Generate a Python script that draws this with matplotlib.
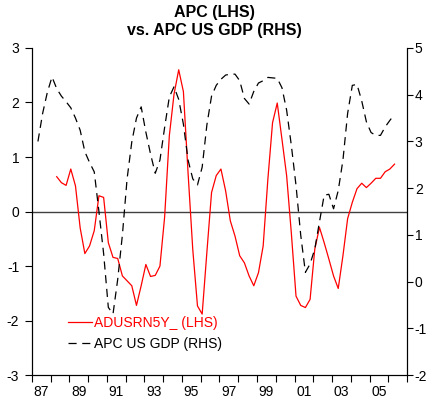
import numpy as np
import matplotlib
matplotlib.use("Agg")
import matplotlib.pyplot as plt

plt.rcParams['font.family'] = ['Liberation Sans', 'DejaVu Sans']
plt.rcParams['axes.unicode_minus'] = False

# ADUSRN5Y_ (LHS), quarterly from 1988 Q2
red_start = 1988.33
red_vals = [0.64, 0.53, 0.48, 0.78, 0.47, -0.30, -0.77, -0.63, -0.35, 0.29,
            0.26, -0.57, -0.84, -0.86, -1.18, -1.27, -1.36, -1.72, -1.36, -0.97,
            -1.19, -1.17, -1.00, -0.10, 1.39, 2.15, 2.60, 2.20, 0.70, -0.70,
            -1.73, -1.88, -0.75, 0.35, 0.66, 0.78, 0.38, -0.17, -0.45, -0.81,
            -0.94, -1.18, -1.36, -1.12, -0.63, 0.59, 1.63, 1.99, 1.33, 0.66,
            -0.39, -1.55, -1.72, -1.76, -1.61, -0.69, -0.29, -0.57, -0.87, -1.18,
            -1.41, -0.81, -0.13, 0.17, 0.42, 0.52, 0.44, 0.52, 0.61, 0.61,
            0.73, 0.78, 0.87]

# APC US GDP (RHS), quarterly from 1987 Q2
gdp_start = 1987.33
gdp_vals = [3.00, 3.60, 4.05, 4.38, 4.13, 3.97, 3.85, 3.72, 3.50, 3.24,
            2.78, 2.55, 2.35, 1.50, 0.60, -0.55, -0.69, 0.05, 1.00, 2.20,
            2.99, 3.50, 3.74, 3.20, 2.73, 2.32, 2.60, 3.30, 3.95, 4.17,
            3.90, 3.37, 2.60, 2.20, 2.07, 2.45, 3.35, 3.97, 4.20, 4.33,
            4.42, 4.44, 4.44, 4.30, 3.92, 3.80, 4.07, 4.25, 4.30, 4.37,
            4.36, 4.35, 4.15, 3.67, 2.92, 2.06, 1.00, 0.20, 0.38, 0.70,
            1.28, 1.85, 1.87, 1.56, 1.95, 2.60, 3.60, 4.20, 4.22, 3.87,
            3.42, 3.19, 3.13, 3.13, 3.31, 3.45, 3.58]

year_labels = ['87', '89', '91', '93', '95', '97', '99', '01', '03', '05']

red_t = red_start + 0.25 * np.arange(len(red_vals))
gdp_t = gdp_start + 0.25 * np.arange(len(gdp_vals))

fig = plt.figure(figsize=(4.29, 4.03), dpi=100)
ax = fig.add_axes([0.074, 0.069, 0.875, 0.812])
ax2 = ax.twinx()

ax.axhline(0, color='#404040', linewidth=1.0, zorder=1)
l1, = ax.plot(red_t, red_vals, color='red', linewidth=0.9, zorder=3)
l2, = ax2.plot(gdp_t, gdp_vals, color='black', linewidth=0.9,
               linestyle=(0, (6.5, 4.5)), zorder=3)

ax.set_xlim(1987, 2007)
ax.set_ylim(-3, 3)
ax2.set_ylim(-2, 5)
ax.set_yticks(range(-3, 4))
ax2.set_yticks(range(-2, 6))

# year ticks on the boundaries, labels in the middle of odd years
ax.set_xticks(np.arange(1987, 2008, 1))
ax.set_xticklabels([])
ax.set_xticks(np.arange(1987.5, 2006, 2), minor=True)
ax.set_xticklabels(year_labels, minor=True)
ax.tick_params(axis='x', which='minor', length=0, pad=7, labelsize=10)
ax.tick_params(axis='x', which='major', length=5, width=0.8, direction='out')

for a in (ax, ax2):
    a.spines['top'].set_visible(False)
    for s in a.spines.values():
        s.set_linewidth(0.8)
ax.tick_params(axis='y', length=5, width=0.8, direction='out', pad=4,
               labelsize=10)
ax2.tick_params(axis='y', length=4, width=0.8, direction='out', pad=1.5,
                labelsize=10)

fig.text(0.5, 0.970, 'APC (LHS)', ha='center', va='center',
         fontsize=11.5, fontweight='bold')
fig.text(0.5, 0.925, 'vs. APC US GDP (RHS)', ha='center', va='center',
         fontsize=11.5, fontweight='bold')

leg = ax2.legend([l1, l2], ['ADUSRN5Y_ (LHS)', 'APC US GDP (RHS)'],
                 loc='lower left', bbox_to_anchor=(0.082, 0.057), frameon=False,
                 fontsize=10, handlelength=1.75, handletextpad=0.15,
                 labelspacing=0.5, borderaxespad=0)
leg.get_texts()[0].set_color('red')

fig.savefig('out.png', dpi=100)
